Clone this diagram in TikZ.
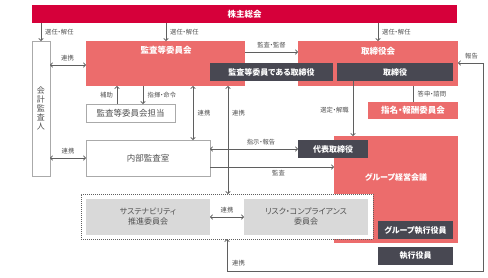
\documentclass[tikz,border=0pt]{standalone}
\usepackage{fontspec}
\setmainfont{Noto Sans CJK JP}[RawFeature={+palt}]
\usetikzlibrary{arrows.meta}
\definecolor{crimson}{RGB}{214,0,58}
\definecolor{salmon}{RGB}{236,108,108}
\definecolor{slate}{RGB}{72,72,82}
\definecolor{lgrey}{RGB}{217,217,217}
\definecolor{lineg}{RGB}{95,95,95}
\definecolor{bord}{RGB}{170,170,170}
\definecolor{txtg}{RGB}{80,80,80}
\tikzset{
  anybox/.style={inner sep=0pt, outer sep=0pt},
  barbox/.style={anybox, fill=crimson, text=white, font=\bfseries\fontsize{8.5}{10}\selectfont},
  redbox/.style={anybox, fill=salmon, text=white, font=\bfseries\fontsize{8.5}{10}\selectfont},
  darkbox/.style={anybox, fill=slate, text=white, font=\bfseries\fontsize{8}{10}\selectfont},
  whitebox/.style={anybox, fill=white, draw=bord, line width=0.8pt, text=txtg, font=\fontsize{8.5}{10}\selectfont},
  greybox/.style={anybox, fill=lgrey, text=txtg, align=center, font=\fontsize{8}{10}\selectfont},
  dotbox/.style={anybox, fill=white, draw=lineg, line width=0.6pt, dash pattern=on 1pt off 1pt},
  whitelbl/.style={inner sep=0pt, text=white, font=\bfseries\fontsize{8.5}{10}\selectfont},
  lbl/.style={inner sep=0pt, text=txtg, font=\fontsize{6.3}{7}\selectfont},
  conn/.style={draw=lineg, line width=0.8pt},
  arr/.style={conn, -{Straight Barb[length=2pt,width=4.5pt]}},
  dbl/.style={conn, {Straight Barb[length=2pt,width=4.5pt]}-{Straight Barb[length=2pt,width=4.5pt]}}
}
\begin{document}
\begin{tikzpicture}[x=1pt,y=-1pt]
\useasboundingbox (0,0) rectangle (488,277);
% boxes
\node[barbox, minimum width=425pt, minimum height=18pt] (bar) at (244.5,14) {株主総会};
\node[whitebox, minimum width=18pt, minimum height=135pt, align=center, font=\fontsize{8}{9}\selectfont] (kaikei) at (41,108.5) {会\\計\\監\\査\\人};
\node[redbox, minimum width=159pt, minimum height=45pt] (kansa) at (165.5,63.5) {};
\node[whitelbl] (kansalbl) at (166,50) {監査等委員会};
\node[redbox, minimum width=160pt, minimum height=45pt] (torikai) at (378,63.5) {};
\node[whitelbl] (torikailbl) at (378,51) {取締役会};
\node[darkbox, minimum width=123pt, minimum height=18pt] (kansatori) at (271.5,72) {監査等委員である取締役};
\node[darkbox, minimum width=116pt, minimum height=18pt] (tori) at (395,72) {取締役};
\node[redbox, minimum width=90pt, minimum height=17pt] (shimei) at (413,110.5) {指名・報酬委員会};
\node[whitebox, minimum width=89pt, minimum height=18pt] (tanto) at (130.5,113) {監査等委員会担当};
\node[whitebox, minimum width=124pt, minimum height=36pt] (naibu) at (148,158) {内部監査室};
\node[redbox, minimum width=124pt, minimum height=107pt] (group) at (396,189.5) {};
\node[whitelbl, font=\bfseries\fontsize{8}{10}\selectfont] (grouplbl) at (396,177) {グループ経営会議};
\node[darkbox, minimum width=70pt, minimum height=18pt] (daihyo) at (333,149) {代表取締役};
\node[dotbox, minimum width=292pt, minimum height=45pt] (dotted) at (227,216.5) {};
\node[greybox, minimum width=124pt, minimum height=36pt] (sus) at (148,217) {サステナビリティ\\推進委員会};
\node[greybox, minimum width=124pt, minimum height=36pt] (risk) at (306,217) {リスク・コンプライアンス\\委員会};
\node[darkbox, minimum width=75pt, minimum height=18pt] (gshikko) at (415.5,230) {グループ執行役員};
\node[darkbox, minimum width=75pt, minimum height=18pt] (shikko) at (415.5,256) {執行役員};
% helper coordinates
\coordinate (t2) at (166,0);
\coordinate (t3) at (378,0);
\coordinate (h1) at (0,65);
\coordinate (h2) at (0,52);
\coordinate (h3) at (0,167);
\coordinate (v1) at (117,0);
\coordinate (v2) at (143,0);
\coordinate (v3) at (193,0);
\coordinate (v4) at (228,0);
\coordinate (v5) at (353,0);
\coordinate (v6) at (413,0);
\coordinate (c1) at (227,271);
\coordinate (c2) at (483,271);
\coordinate (c3) at (483,63);
% connectors
\draw[arr] (bar.south -| kaikei.north) -- (kaikei.north);
\draw[arr] (bar.south -| t2) -- (kansa.north -| t2);
\draw[arr] (bar.south -| t3) -- (torikai.north -| t3);
\draw[dbl] (kaikei.east |- h1) -- (kansa.west |- h1);
\draw[arr] (kansa.east |- h2) -- (torikai.west |- h2);
\draw[arr] (tanto.north -| v1) -- (kansa.south -| v1);
\draw[arr] (kansa.south -| v2) -- (tanto.north -| v2);
\draw[dbl] (kansa.south -| v3) -- (naibu.north -| v3);
\draw[dbl] (kansa.south -| v4) -- (dotted.north -| v4);
\draw[dbl] (kaikei.east |- naibu.center) -- (naibu.west);
\draw[dbl] (naibu.east |- daihyo.center) -- (daihyo.west);
\draw[arr] (naibu.east |- h3) -- (group.west |- h3);
\draw[arr] (tori.south -| v5) -- (group.north -| v5);
\draw[conn] (torikai.south -| v6) -- (shimei.north -| v6);
\draw[dbl] (sus.east) -- (risk.west);
\draw[dbl] (dotted.south -| c1) -- (c1) -- (c2) -- (c3) -- (torikai.east |- c3);
% labels
\node[lbl, anchor=west] (l1) at (45,32) {選任・解任};
\node[lbl, anchor=west] (l2) at (170,32) {選任・解任};
\node[lbl, anchor=west] (l3) at (382,32) {選任・解任};
\node[lbl] (l4) at (67.5,58) {連携};
\node[lbl] (l5) at (271.5,45) {監査・監督};
\node[lbl] (l6) at (106.5,95) {補助};
\node[lbl, anchor=west] (l7) at (147.5,95) {指揮・命令};
\node[lbl] (l8) at (204,113) {連携};
\node[lbl] (l9) at (238.5,113) {連携};
\node[lbl] (l10) at (68,151.5) {連携};
\node[lbl] (l11) at (261,142) {指示・報告};
\node[lbl] (l12) at (278.5,173) {監査};
\node[lbl] (l13) at (334.5,110) {選定・解職};
\node[lbl, anchor=west] (l14) at (417.5,94.5) {答申・諮問};
\node[lbl] (l15) at (227,210) {連携};
\node[lbl] (l16) at (238.5,263) {連携};
\node[lbl] (l17) at (471.5,56) {報告};
\end{tikzpicture}
\end{document}
